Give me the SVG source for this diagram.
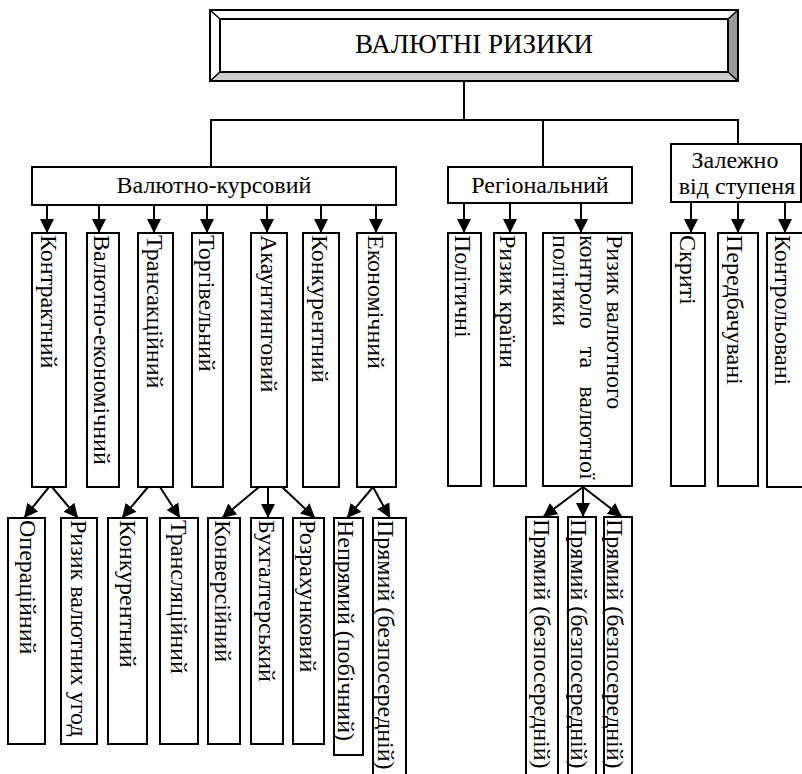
<svg xmlns="http://www.w3.org/2000/svg" width="802" height="774" viewBox="0 0 802 774">
<defs>
<style>
.box{fill:#fff;stroke:#000;stroke-width:2}
.ln{fill:none;stroke:#000;stroke-width:2}
.t{font-family:"Liberation Serif","Times New Roman",serif;font-size:24px;fill:#000}
.c{text-anchor:middle}
</style>
<marker id="ah" markerWidth="14" markerHeight="14" refX="14" refY="7" orient="auto" markerUnits="userSpaceOnUse"><path d="M0,0 L14,7 L0,14 z" fill="#000"/></marker>
</defs>
<rect width="802" height="774" fill="#fff"/>

<g id="connectors">
<path class="ln" d="M464,81 V120 M211,167 V120 H738 V144 M543,120 V167"/>
<g class="ln" marker-end="url(#ah)">
<line x1="47" y1="205" x2="47" y2="233"/>
<line x1="99" y1="205" x2="99" y2="233"/>
<line x1="154" y1="205" x2="154" y2="233"/>
<line x1="207" y1="205" x2="207" y2="233"/>
<line x1="267" y1="205" x2="267" y2="233"/>
<line x1="321" y1="205" x2="321" y2="233"/>
<line x1="376" y1="205" x2="376" y2="233"/>
<line x1="464" y1="203" x2="464" y2="233"/>
<line x1="510" y1="203" x2="510" y2="233"/>
<line x1="581" y1="203" x2="581" y2="233"/>
<line x1="691" y1="202" x2="691" y2="233"/>
<line x1="738" y1="202" x2="738" y2="233"/>
<line x1="785" y1="202" x2="785" y2="233"/>
<line x1="49" y1="487" x2="24" y2="518"/>
<line x1="52" y1="487" x2="78" y2="518"/>
<line x1="148" y1="487" x2="122" y2="518"/>
<line x1="160" y1="487" x2="180" y2="518"/>
<line x1="259" y1="487" x2="222" y2="518"/>
<line x1="268" y1="487" x2="268" y2="518"/>
<line x1="282" y1="487" x2="315" y2="518"/>
<line x1="373" y1="487" x2="347" y2="518"/>
<line x1="373" y1="487" x2="390" y2="518"/>
<line x1="583" y1="487" x2="543" y2="517"/>
<line x1="583" y1="487" x2="583" y2="517"/>
<line x1="583" y1="487" x2="622" y2="517"/>
</g>
</g>

<g id="root">
<rect x="210" y="10" width="528" height="71" fill="#fff"/>
<polygon points="738,10 738,81 728,72 728,19" fill="#999"/>
<polygon points="210,81 738,81 728,72 220,72" fill="#ccc"/>
<rect x="210" y="10" width="528" height="71" fill="none" stroke="#000" stroke-width="2"/>
<rect x="220" y="19" width="508" height="53" fill="#fff" stroke="#000" stroke-width="2"/>
<path d="M210,10 L220,19 M738,10 L728,19 M210,81 L220,72 M738,81 L728,72" stroke="#000" stroke-width="1.5"/>
<text class="t c" x="474" y="53" style="font-size:27px">ВАЛЮТНІ РИЗИКИ</text>
</g>

<g id="valiutno-kursovyi">
<rect class="box" x="32" y="167" width="364" height="38"/>
<text class="t c" x="214" y="193">Валютно-курсовий</text>
</g>
<g id="rehionalnyi">
<rect class="box" x="448" y="167" width="184" height="36"/>
<text class="t c" x="540" y="193">Регіональний</text>
</g>
<g id="zalezhno">
<rect class="box" x="671" y="144" width="130" height="58"/>
<text class="t c" x="735" y="168">Залежно</text>
<text class="t c" x="737" y="194">від ступеня</text>
</g>

<g id="kontraktnyi"><rect class="box" x="32" y="233" width="34" height="254"/><text class="t" transform="translate(41,235) rotate(90)">Контрактний</text></g>
<g id="valiutno-ekonomichnyi"><rect class="box" x="87" y="233" width="32" height="254"/><text class="t" transform="translate(94,235) rotate(90)">Валютно-економічний</text></g>
<g id="transaktsiinyi"><rect class="box" x="138" y="233" width="35" height="254"/><text class="t" transform="translate(147,235) rotate(90)">Трансакційний</text></g>
<g id="torhivelnyi"><rect class="box" x="192" y="233" width="31" height="254"/><text class="t" transform="translate(199,235) rotate(90)">Торгівельний</text></g>
<g id="akauntynhovyi"><rect class="box" x="251" y="233" width="36" height="254"/><text class="t" transform="translate(261,235) rotate(90)">Акаунтинговий</text></g>
<g id="konkurentnyi"><rect class="box" x="303" y="233" width="36" height="254"/><text class="t" transform="translate(312,235) rotate(90)">Конкурентний</text></g>
<g id="ekonomichnyi"><rect class="box" x="357" y="233" width="39" height="254"/><text class="t" transform="translate(368,235) rotate(90)">Економічний</text></g>

<g id="politychni"><rect class="box" x="448" y="233" width="33" height="253"/><text class="t" transform="translate(455,235) rotate(90)">Політичні</text></g>
<g id="ryzyk-krainy"><rect class="box" x="494" y="233" width="32" height="253"/><text class="t" transform="translate(500,235) rotate(90)">Ризик країни</text></g>
<g id="ryzyk-valiutnoho-kontroliu"><rect class="box" x="543" y="233" width="89" height="253"/>
<text class="t" transform="translate(607,235) rotate(90)">Ризик валютного</text>
<text class="t" transform="translate(580,235) rotate(90)" word-spacing="12">контроло та валютної</text>
<text class="t" transform="translate(553,235) rotate(90)">політики</text></g>

<g id="skryti"><rect class="box" x="671" y="233" width="34" height="253"/><text class="t" transform="translate(680,235) rotate(90)">Скриті</text></g>
<g id="peredbachuvani"><rect class="box" x="718" y="233" width="40" height="253"/><text class="t" transform="translate(727,235) rotate(90)">Передбачувані</text></g>
<g id="kontrolovani"><rect class="box" x="767" y="233" width="50" height="254"/><text class="t" transform="translate(775,235) rotate(90)">Контрольовані</text></g>

<g id="operatsiinyi"><rect class="box" x="8" y="518" width="37" height="226"/><text class="t" transform="translate(20,520) rotate(90)">Операційний</text></g>
<g id="ryzyk-valiutnykh-uhod"><rect class="box" x="61" y="518" width="36" height="226"/><text class="t" transform="translate(71,520) rotate(90)">Ризик валютних угод</text></g>
<g id="konkurentnyi-2"><rect class="box" x="108" y="518" width="39" height="226"/><text class="t" transform="translate(120,520) rotate(90)">Конкурентний</text></g>
<g id="transliatsiinyi"><rect class="box" x="160" y="518" width="38" height="226"/><text class="t" transform="translate(171,520) rotate(90)">Трансляційний</text></g>
<g id="konversiinyi"><rect class="box" x="208" y="518" width="32" height="226"/><text class="t" transform="translate(215,520) rotate(90)">Конверсійний</text></g>
<g id="bukhhalterskyi"><rect class="box" x="251" y="518" width="32" height="226"/><text class="t" transform="translate(259,520) rotate(90)">Бухгалтерський</text></g>
<g id="rozrakhunkovyi"><rect class="box" x="293" y="518" width="31" height="226"/><text class="t" transform="translate(300,520) rotate(90)">Розрахунковий</text></g>
<g id="nepriamyi"><rect class="box" x="334" y="518" width="29" height="237"/><text class="t" transform="translate(338,520) rotate(90)">Непрямий (побічний)</text></g>
<g id="priamyi-1"><rect class="box" x="373" y="518" width="33" height="270"/><text class="t" transform="translate(378,520) rotate(90)">Прямий (безпосередній)</text></g>

<g id="priamyi-2"><rect class="box" x="526" y="517" width="32" height="270"/><text class="t" transform="translate(534,519) rotate(90)">Прямий (безпосередній)</text></g>
<g id="priamyi-3"><rect class="box" x="568" y="517" width="28" height="270"/><text class="t" transform="translate(571,519) rotate(90)">Прямий (безпосередній)</text></g>
<g id="priamyi-4"><rect class="box" x="604" y="517" width="28" height="270"/><text class="t" transform="translate(607,519) rotate(90)">Прямий (безпосередній)</text></g>
</svg>
